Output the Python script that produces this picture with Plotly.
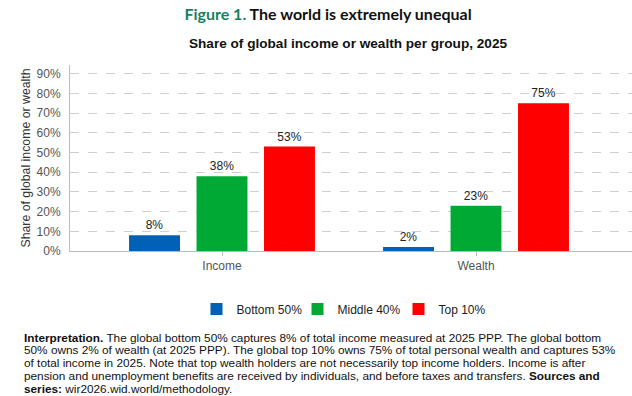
import plotly.graph_objects as go

categories = ["Income", "Wealth"]
groups = ["Bottom 50%", "Middle 40%", "Top 10%"]
bottom50 = [8, 2]
middle40 = [38, 23]
top10 = [53, 75]
colors = ["#0061B5", "#00A933", "#FF0000"]
series = [bottom50, middle40, top10]

note_lines = [
    "<b>Interpretation.</b> The global bottom 50% captures 8% of total income measured at 2025 PPP. The global bottom",
    "50% owns 2% of wealth (at 2025 PPP). The global top 10% owns 75% of total personal wealth and captures 53%",
    "of total income in 2025. Note that top wealth holders are not necessarily top income holders. Income is after",
    "pension and unemployment benefits are received by individuals, and before taxes and transfers. <b>Sources and</b>",
    "<b>series:</b> wir2026.wid.world/methodology.",
]

FONT = "Liberation Sans, Arial, sans-serif"

fig = go.Figure()
for name, vals, col in zip(groups, series, colors):
    fig.add_trace(go.Bar(
        x=categories, y=vals, name=name, marker=dict(color=col, line=dict(width=0)),
        text=[f"{v}%" for v in vals], texttemplate="%{text}",
        textposition="outside", cliponaxis=False,
        textfont=dict(family=FONT, size=12, color="#222222"),
    ))

W, H = 632, 396
ml, mr, mt, mb = 70, 0, 65, 145
pw, ph = W - ml - mr, H - mt - mb

def px_x(px):
    return (px - ml) / pw

def px_y(py):
    return (H - mb - py) / ph

annotations = [
    dict(text="<b>Share of global income or wealth per group, 2025</b>", xref="paper", yref="paper",
         x=px_x(348), y=px_y(43), xanchor="center", yanchor="middle", showarrow=False,
         font=dict(family=FONT, size=13.6, color="#111111"))
]
for i, line in enumerate(note_lines):
    annotations.append(dict(
        text=line, xref="paper", yref="paper", x=px_x(22), y=px_y(337.5 + i * 12.9),
        xanchor="left", yanchor="middle", align="left", showarrow=False,
        font=dict(family=FONT, size=11.8, color="#111111"),
    ))

fig.update_layout(
    width=W, height=H,
    margin=dict(l=ml, r=mr, t=mt, b=mb, pad=0, autoexpand=False),
    paper_bgcolor="white", plot_bgcolor="white",
    font=dict(family=FONT, size=12, color="#333333"),
    title=dict(
        text="<span style='color:#1a7f64'>Figure 1.</span> The world is extremely unequal",
        x=328 / W, xanchor="center", y=1 - 14 / H, yanchor="middle",
        font=dict(family="Lato, sans-serif", size=16, color="#111111", weight="bold"),
    ),
    barmode="group", bargap=0.203, bargroupgap=0.245,
    xaxis=dict(
        range=[(ml - 222) / 254, (W - mr - 222) / 254],
        showline=True, linecolor="#bbbbbb", linewidth=1,
        ticks="outside", ticklen=4, tickcolor="#bbbbbb",
        tickfont=dict(family=FONT, size=12, color="#555555"),
        showgrid=False, zeroline=False, automargin=False,
    ),
    yaxis=dict(
        range=[0, 94.4], dtick=10, tick0=0, ticksuffix="%",
        showline=True, linecolor="#bbbbbb", linewidth=1,
        showgrid=True, gridcolor="#d0d0d0", griddash="dash", gridwidth=1,
        zeroline=False, ticks="", ticklabelstandoff=6, automargin=False,
        tickfont=dict(family=FONT, size=12, color="#555555"),
        title=dict(text="Share of global income or wealth", standoff=3,
                   font=dict(family=FONT, size=12.3, color="#333333")),
    ),
    legend=dict(
        orientation="h", x=px_x(348), xanchor="center", y=px_y(309), yanchor="middle",
        font=dict(family=FONT, size=12, color="#222222"), traceorder="normal",
        itemwidth=30, entrywidth=56, entrywidthmode="pixels",
    ),
    annotations=annotations,
    showlegend=True,
)

fig.write_html("out.html", post_script="document.body.style.margin='0px';",
               config={"displayModeBar": False})
